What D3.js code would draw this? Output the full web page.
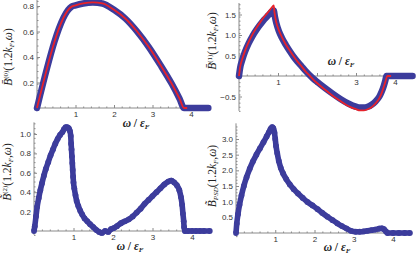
<!DOCTYPE html>
<html><head><meta charset="utf-8">
<script src="https://cdn.jsdelivr.net/npm/d3@7"></script>
<style>
body{margin:0;background:#fff;}
svg{display:block;}
.tick text{font-family:"Liberation Sans","DejaVu Sans",sans-serif;font-size:8px;fill:#333;}
.lab{font-family:"Liberation Serif","DejaVu Serif",serif;font-size:11.5px;fill:#222;}
</style></head>
<body><svg id="c" width="416" height="259"></svg>
<script>
// ---- data ----
const ticksX = [1, 2, 3, 4];
const ticksY0 = [0.2, 0.4, 0.6, 0.8];
const ticksY1 = [-0.5, 0.5, 1.0, 1.5];
const ticksY2 = [0.2, 0.4, 0.6, 0.8, 1.0];
const ticksY3 = [0.5, 1.0, 1.5, 2.0, 2.5, 3.0];

// B^(0): numerical (blue) and analytic (red)
const b0Blue = [[0,0],[0.9,0.795],[1.0,0.805],[1.2,0.82],[1.45,0.828],[1.7,0.82],[2.0,0.77],[2.3,0.70],[2.6,0.60],[2.9,0.48],[3.2,0.34],[3.5,0.19],[3.7,0.075],[3.82,0],[4.1,0],[4.45,0]];
const b0Red  = [[0,0],[0.9,0.795],[1.0,0.805],[1.2,0.82],[1.45,0.828],[1.7,0.82],[2.0,0.77],[2.3,0.70],[2.6,0.60],[2.9,0.48],[3.2,0.34],[3.5,0.19],[3.7,0.075],[3.82,0],[3.9,0]];

// B^(1)
const b1Blue = [[0,0],[0.03,0.2],[0.08,0.38],[0.15,0.58],[0.25,0.8],[0.35,0.98],[0.45,1.13],[0.55,1.26],[0.65,1.38],[0.75,1.48],[0.84,1.57],[0.89,1.6],[0.92,1.45],[0.96,1.28],[1.02,1.1],[1.1,0.93],[1.2,0.76],[1.3,0.61],[1.4,0.47],[1.5,0.35],[1.6,0.24],[1.7,0.13],[1.8,0.03],[1.9,-0.06],[2.0,-0.14],[2.2,-0.29],[2.4,-0.43],[2.6,-0.56],[2.8,-0.67],[3.0,-0.75],[3.1,-0.77],[3.2,-0.77],[3.3,-0.75],[3.4,-0.7],[3.5,-0.62],[3.6,-0.5],[3.66,-0.38],[3.71,-0.25],[3.75,-0.12],[3.78,0],[3.9,0],[4.1,0],[4.3,0],[4.45,0]];
const b1Red  = [[0,0],[0.03,0.22],[0.08,0.4],[0.15,0.6],[0.25,0.83],[0.35,1.02],[0.45,1.18],[0.55,1.32],[0.65,1.45],[0.75,1.56],[0.84,1.67],[0.89,1.72],[0.91,1.55],[0.95,1.33],[1.02,1.12],[1.1,0.95],[1.2,0.77],[1.3,0.62],[1.4,0.48],[1.5,0.35],[1.6,0.24],[1.7,0.12],[1.8,0.02],[1.9,-0.08],[2.0,-0.17],[2.2,-0.33],[2.4,-0.48],[2.6,-0.61],[2.8,-0.73],[3.0,-0.81],[3.1,-0.84],[3.2,-0.84],[3.3,-0.81],[3.4,-0.76],[3.5,-0.67],[3.6,-0.54],[3.66,-0.41],[3.71,-0.27],[3.76,-0.12],[3.8,0],[3.9,0]];

// B^(2) (points)
const b2Pts = [[0,0],[0.02,0.05],[0.05,0.15],[0.08,0.25],[0.12,0.34],[0.16,0.42],[0.2,0.49],[0.25,0.57],[0.3,0.64],[0.36,0.71],[0.42,0.78],[0.48,0.84],[0.54,0.9],[0.6,0.95],[0.66,0.99],[0.72,1.02],[0.76,1.05],[0.8,1.07],[0.84,1.07],[0.88,1.06],[0.91,1.03],[0.93,0.98],[0.94,0.9],[0.95,0.84],[0.96,0.77],[0.97,0.7],[0.98,0.63],[0.99,0.56],[1.0,0.5],[1.02,0.44],[1.05,0.37],[1.08,0.31],[1.12,0.26],[1.17,0.21],[1.22,0.17],[1.28,0.13],[1.35,0.1],[1.42,0.07],[1.5,0.04],[1.58,0.01],[1.65,-0.01],[1.72,-0.02],[1.8,0.0],[1.88,-0.01],[1.95,0.02],[2.02,0.03],[2.1,0.05],[2.2,0.08],[2.3,0.1],[2.4,0.12],[2.5,0.15],[2.6,0.19],[2.7,0.23],[2.8,0.28],[2.9,0.32],[3.0,0.36],[3.1,0.4],[3.2,0.44],[3.3,0.48],[3.4,0.51],[3.48,0.52],[3.55,0.5],[3.62,0.47],[3.68,0.42],[3.72,0.35],[3.75,0.27],[3.77,0.18],[3.79,0.1],[3.8,0.04],[3.82,0],[3.9,0],[4.0,0],[4.1,0],[4.2,0],[4.3,0],[4.45,0]];

// B_PSD (points)
const bPsdPts = [[0,0],[0.02,0.3],[0.05,0.6],[0.09,0.9],[0.14,1.2],[0.2,1.5],[0.27,1.78],[0.35,2.05],[0.43,2.28],[0.52,2.5],[0.61,2.7],[0.7,2.9],[0.78,3.08],[0.84,3.22],[0.88,3.32],[0.92,3.38],[0.95,3.35],[0.98,3.2],[1.0,3.0],[1.02,2.78],[1.05,2.55],[1.09,2.3],[1.14,2.08],[1.2,1.9],[1.28,1.72],[1.37,1.55],[1.47,1.4],[1.58,1.26],[1.7,1.12],[1.82,0.99],[1.95,0.88],[2.08,0.76],[2.2,0.64],[2.33,0.52],[2.46,0.41],[2.58,0.31],[2.7,0.22],[2.82,0.14],[2.93,0.07],[3.05,0.04],[3.15,0.04],[3.25,0.05],[3.35,0.07],[3.45,0.09],[3.55,0.11],[3.65,0.14],[3.72,0.15],[3.77,0.12],[3.82,0.05],[3.86,0],[4.0,0],[4.15,0],[4.3,0],[4.43,0]];

// ---- drawing ----
const BLUE = "#3c3c9c", RED = "#e8222a", AXIS = "#8a8a8a";
const svg = d3.select("#c");

function panel(cfg){
  const g = svg.append("g");
  const x = d3.scaleLinear().domain([0,4]).range(cfg.xr);
  const y = d3.scaleLinear().domain(cfg.yd).range(cfg.yr);
  const y0 = y(0), x0 = x(0);
  const minX = d3.range(0.2, cfg.xMax, 0.2).filter(v => Math.abs(v - Math.round(v)) > 1e-6);
  g.append("g").attr("transform",`translate(0,${y0})`)
    .call(d3.axisBottom(x).tickValues(minX).tickSize(-1.5).tickFormat(""))
    .call(s => s.select(".domain").remove())
    .selectAll("line").attr("stroke",AXIS);
  const minY = d3.range(cfg.yMin, cfg.yMax, cfg.yMinor).filter(v => Math.abs(v) > 1e-6 && !cfg.yt.some(t => Math.abs(t - v) < 1e-6));
  g.append("g").attr("transform",`translate(${x0},0)`)
    .call(d3.axisLeft(y).tickValues(minY).tickSize(-1.5).tickFormat(""))
    .call(s => s.select(".domain").remove())
    .selectAll("line").attr("stroke",AXIS);
  const ax = g.append("g").attr("transform",`translate(0,${y0})`)
    .call(d3.axisBottom(x).tickValues(ticksX).tickSize(-3).tickPadding(3).tickFormat(d3.format("d")));
  ax.select(".domain").remove();
  ax.selectAll("line").attr("stroke",AXIS);
  const ay = g.append("g").attr("transform",`translate(${x0},0)`)
    .call(d3.axisLeft(y).tickValues(cfg.yt).tickSize(-3).tickPadding(3).tickFormat(d3.format(".1f")));
  ay.select(".domain").remove();
  ay.selectAll("line").attr("stroke",AXIS);
  g.append("line").attr("x1",x(0)).attr("x2",x(cfg.xMax)).attr("y1",y0).attr("y2",y0).attr("stroke",AXIS).attr("stroke-width",1);
  g.append("line").attr("x1",x0).attr("x2",x0).attr("y1",y(cfg.yMin)).attr("y2",y(cfg.yMax)).attr("stroke",AXIS).attr("stroke-width",1);

  const line = d3.line().x(d => x(d[0])).y(d => y(d[1])).curve(d3.curveMonotoneX);
  if (cfg.blue){
    g.append("path").attr("d", line(cfg.blue)).attr("fill","none").attr("stroke",BLUE)
      .attr("stroke-width",6.5).attr("stroke-linejoin","round").attr("stroke-linecap","round");
  }
  if (cfg.red){
    g.append("path").attr("d", line(cfg.red)).attr("fill","none").attr("stroke",RED)
      .attr("stroke-width",1.8).attr("stroke-linejoin","round");
  }
  if (cfg.pts){
    g.append("path").attr("d", line(cfg.pts)).attr("fill","none").attr("stroke",BLUE)
      .attr("stroke-width",5.6).attr("stroke-linejoin","round");
    g.selectAll("circle.p").data(cfg.pts).join("circle").attr("class","p")
      .attr("cx", d => x(d[0])).attr("cy", d => y(d[1])).attr("r", 2.9).attr("fill", BLUE);
  }
  const xl = g.append("text").attr("class","lab").attr("x",cfg.xl[0]).attr("y",cfg.xl[1]).attr("text-anchor","middle").attr("font-weight","bold");
  xl.append("tspan").attr("font-style","italic").text("ω");
  xl.append("tspan").text(" / ");
  xl.append("tspan").attr("font-style","italic").text("ε");
  xl.append("tspan").attr("font-style","italic").attr("font-size","7px").attr("dy",2).text("F");
  const yl = g.append("text").attr("class","lab").attr("text-anchor","middle")
    .attr("transform",`translate(${cfg.yl[0]},${cfg.yl[1]}) rotate(-90)`);
  yl.append("tspan").attr("font-style","italic").text(cfg.sym);
  if (cfg.sup) yl.append("tspan").attr("font-size","7px").attr("dy",-4.5).text(cfg.sup);
  if (cfg.sub) yl.append("tspan").attr("font-size","7px").attr("font-style","italic").attr("dy",2).text(cfg.sub);
  yl.append("tspan").attr("dy", cfg.sup ? 4.5 : -2).text("(1.2");
  yl.append("tspan").attr("font-style","italic").text("k");
  yl.append("tspan").attr("font-style","italic").attr("font-size","7px").attr("dy",2).text("F");
  yl.append("tspan").attr("dy",-2).text(",");
  yl.append("tspan").attr("font-style","italic").text("ω");
  yl.append("tspan").text(")");
}

panel({xr:[37,191], yd:[0,0.8], yr:[108,6], xMax:4.5, yMin:-0.01, yMax:0.85, yMinor:0.05, yt:ticksY0,
  blue:b0Blue, red:b0Red, xl:[136,127], yl:[12,57], sym:"B\u0304", sup:"(0)"});
panel({xr:[239,395], yd:[0,1.5], yr:[76,14.5], xMax:4.5, yMin:-0.85, yMax:1.78, yMinor:0.1, yt:ticksY1,
  blue:b1Blue, red:b1Red, xl:[341,65], yl:[216,41], sym:"B\u0304", sup:"(1)"});
panel({xr:[34,192], yd:[0,1], yr:[231,134], xMax:4.5, yMin:-0.04, yMax:1.12, yMinor:0.05, yt:ticksY2,
  pts:b2Pts, xl:[130,250], yl:[11,172], sym:"B\u0303", sup:"(2)"});
panel({xr:[236,393], yd:[0,3], yr:[233,139], xMax:4.5, yMin:-0.1, yMax:3.5, yMinor:0.1, yt:ticksY3,
  pts:bPsdPts, xl:[337,251], yl:[216,176], sym:"B\u0303", sub:"PSD"});
</script></body></html>
